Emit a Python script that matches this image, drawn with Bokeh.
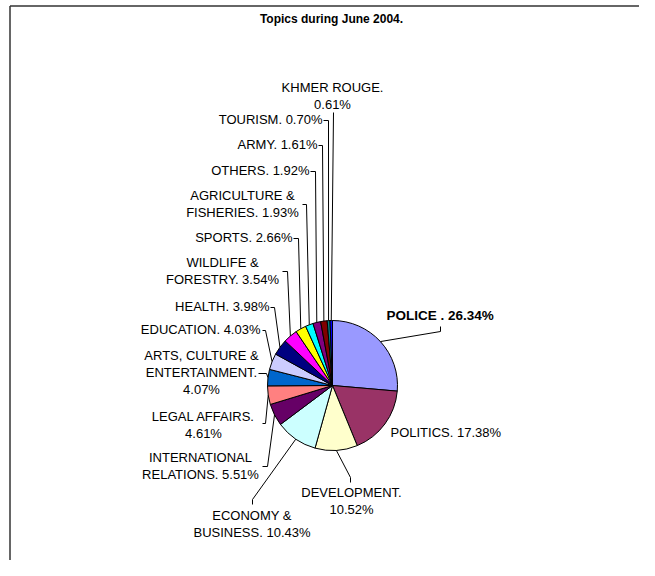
import math
from bokeh.plotting import figure
from bokeh.models import Range1d, ColumnDataSource
from bokeh.core.properties import value
from bokeh.embed import file_html
from bokeh.resources import INLINE

# ---------------- data ----------------
title_text = "Topics during June 2004."
categories = ["POLICE ", "POLITICS", "DEVELOPMENT", "ECONOMY & BUSINESS",
              "INTERNATIONAL RELATIONS", "LEGAL AFFAIRS",
              "ARTS, CULTURE & ENTERTAINMENT", "EDUCATION", "HEALTH",
              "WILDLIFE & FORESTRY", "SPORTS", "AGRICULTURE & FISHERIES",
              "OTHERS", "ARMY", "TOURISM", "KHMER ROUGE"]
percents = [26.34, 17.38, 10.52, 10.43, 5.51, 4.61, 4.07, 4.03, 3.98,
            3.54, 2.66, 1.93, 1.92, 1.61, 0.70, 0.61]
colors = ["#9999FF", "#993366", "#FFFFCC", "#CCFFFF", "#660066", "#FF8080",
          "#0066CC", "#CCCCFF", "#000080", "#FF00FF", "#FFFF00", "#00FFFF",
          "#800080", "#800000", "#008080", "#0000FF"]

# ---------------- layout (page pixel coordinates) ----------------
W, H = 639, 560
CX, CY, R = 332, 385, 65
FONT = value("Liberation Sans")
LINE_H = 17
# x, first-line y, align, words per line, leader points near the label
label_layout = [
    (386, 315, "left", None, [(440, 326), (440, 331)]),
    (390, 432, "left", None, None),
    (351, 492, "center", [1, 1], [(350, 482), (350, 477)]),
    (251.5, 515, "center", [2, 2], [(252, 504), (252, 499)]),
    (200, 457, "center", [1, 2], [(262, 466), (267, 466)]),
    (203, 416, "center", [2, 1], [(262, 423), (265, 423)]),
    (201, 355, "center", [3, 1, 1], [(258, 373), (266, 373)]),
    (260, 329, "right", None, [(262, 330), (265, 330)]),
    (269, 306, "right", None, [(270, 307), (274, 307)]),
    (222, 262, "center", [2, 2], [(282, 271), (287, 271)]),
    (292, 237, "right", None, [(293, 238), (298, 238)]),
    (242, 195, "center", [2, 2], [(302, 204), (306, 204)]),
    (309, 170, "right", None, [(310, 171), (315, 171)]),
    (317, 144, "right", None, [(318, 145), (322, 145)]),
    (322, 119, "right", None, [(323, 120), (328, 120)]),
    (332, 87, "center", [2, 1], [(333, 112)]),
]


def Y(py):
    return 576 - py


p = figure(width=W, height=H, x_range=Range1d(0, W), y_range=Range1d(576 - H, 576),
           output_backend="svg", toolbar_location=None, min_border=0,
           x_axis_location=None, y_axis_location=None)
p.grid.visible = False
p.outline_line_color = None
p.background_fill_color = "white"
p.border_fill_color = "white"

# chart border (top and left edges visible)
p.line(x=[9.5, 9.5], y=[Y(576), Y(5.5)], line_color="#333333", line_width=1.5)
p.line(x=[9.5, 655], y=[Y(5.5), Y(5.5)], line_color="#333333", line_width=1.5)

# title
p.text(x=[331], y=[Y(18)], text=[title_text], text_align="center",
       text_baseline="middle", text_font=FONT, text_font_size="12px",
       text_font_style="bold", text_color="black")

# pie
total = sum(percents)
starts, ends, mids = [], [], []
cum = 0.0
for v in percents:
    a0 = cum / total * 2 * math.pi
    cum += v
    a1 = cum / total * 2 * math.pi
    starts.append(math.pi / 2 - a0)
    ends.append(math.pi / 2 - a1)
    mids.append((a0 + a1) / 2)

src = ColumnDataSource(dict(start=starts, end=ends, color=colors))
p.wedge(x=CX, y=Y(CY), radius=R, radius_units="screen", start_angle="start",
        end_angle="end", direction="clock", fill_color="color",
        line_color="black", line_width=1, source=src)

# labels and leaders
tx, ty, tt, ta = [], [], [], []
bx, by, bt, ba = [], [], [], []
lxs, lys = [], []
for i, (cat, v) in enumerate(zip(categories, percents)):
    x, y0, align, wpl, lead = label_layout[i]
    full = f"{cat}. {v:.2f}%"
    words = full.split()
    if wpl is None:
        lines = [" ".join(words)]
    else:
        lines, k = [], 0
        for n in wpl:
            lines.append(" ".join(words[k:k + n]))
            k += n
    for j, ln in enumerate(lines):
        if i == 0:
            bx.append(x); by.append(Y(y0 + j * LINE_H)); bt.append(ln); ba.append(align)
        else:
            tx.append(x); ty.append(Y(y0 + j * LINE_H)); tt.append(ln); ta.append(align)
    if lead:
        mx = CX + R * math.sin(mids[i])
        my = CY - R * math.cos(mids[i])
        pts = list(lead) + [(mx, my)]
        lxs.append([q[0] for q in pts])
        lys.append([Y(q[1]) for q in pts])

p.multi_line(xs=lxs, ys=lys, line_color="black", line_width=1)
p.text(x=tx, y=ty, text=tt, text_align=ta, text_baseline="middle",
       text_font=FONT, text_font_size="13px", text_color="black")
p.text(x=bx, y=by, text=bt, text_align=ba, text_baseline="middle",
       text_font=FONT, text_font_size="13.5px", text_font_style="bold",
       text_color="black")

open("out.html", "w").write(file_html(p, INLINE))
